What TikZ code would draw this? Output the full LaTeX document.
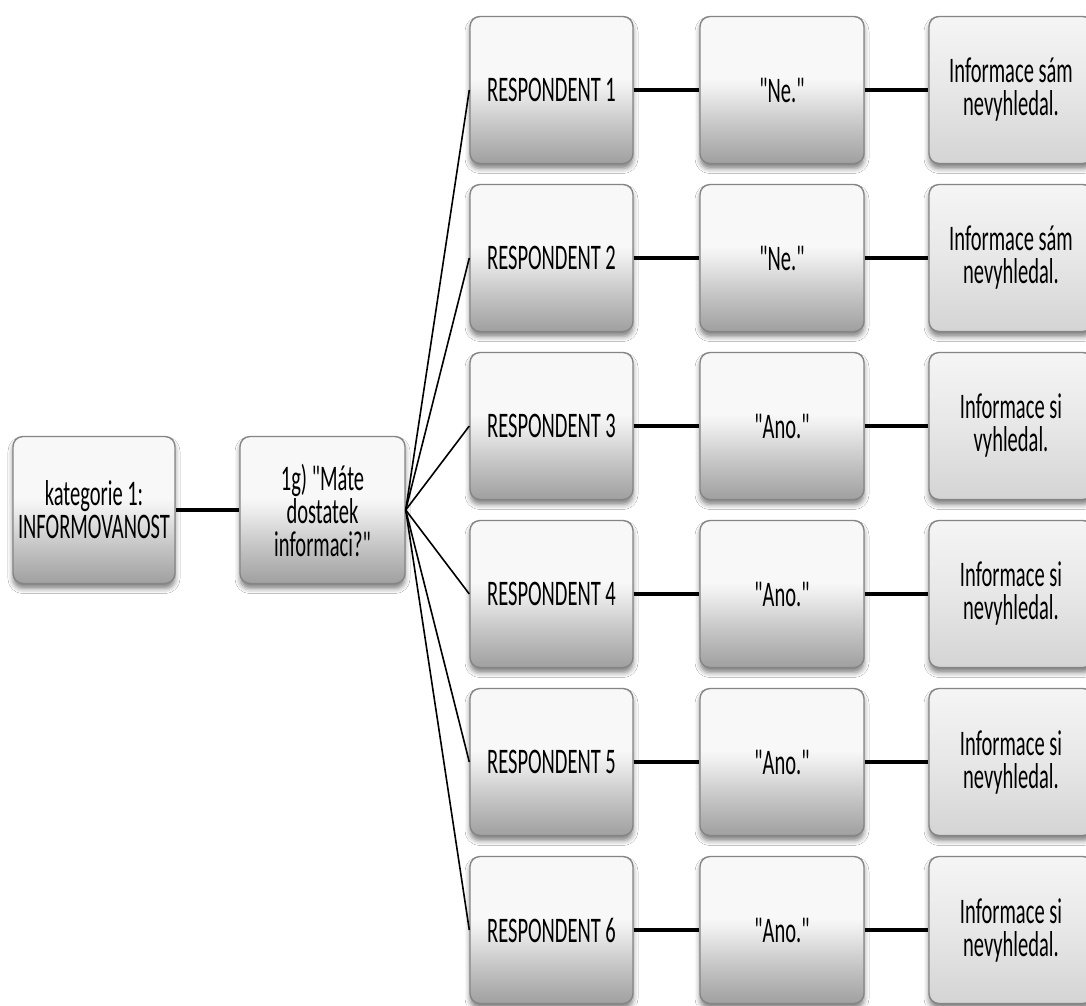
\documentclass[tikz,border=0pt]{standalone}
\usepackage{fontspec}
% plain family (no TeX ligature mapping), so " stays a straight quote
\newfontfamily\boxfont{Carlito}[FakeStretch=0.57]
\usetikzlibrary{shadows.blur}

\definecolor{boxedge}{HTML}{858585}
\definecolor{dkA}{HTML}{A0A0A0}
\definecolor{dkB}{HTML}{C6C6C6}
\definecolor{dkC}{HTML}{EDEDED}
\definecolor{dkD}{HTML}{F8F8F8}
\definecolor{ltA}{HTML}{D4D4D4}
\definecolor{ltB}{HTML}{E7E7E7}
\definecolor{ltC}{HTML}{F5F5F5}

% grey gradient, flat pale top half darkening towards the bottom edge
\pgfdeclareverticalshading{darkgrad}{100bp}{%
  color(0bp)=(dkA); color(25bp)=(dkA); color(38bp)=(dkB);
  color(50bp)=(dkC); color(54bp)=(dkD); color(100bp)=(dkD)}
% softer gradient for the result boxes
\pgfdeclareverticalshading{lightgrad}{100bp}{%
  color(0bp)=(ltA); color(25bp)=(ltA); color(50bp)=(ltB);
  color(75bp)=(ltC); color(100bp)=(ltC)}

\begin{document}
\begin{tikzpicture}[x=1pt,y=-1pt,
  box/.style={draw=boxedge, line width=1.4pt, rounded corners=10pt,
    minimum height=147pt, inner sep=0pt, align=center,
    font=\boxfont\fontsize{36pt}{33pt}\selectfont,
    blur shadow={shadow xshift=0pt, shadow yshift=-5pt,
      shadow blur radius=5pt, shadow opacity=50}},
  darkbox/.style={box, shading=darkgrad},
  lightbox/.style={box, shading=lightgrad},
  trunk/.style={line width=3.5pt},
  branch/.style={line width=1.6pt}]

\path[use as bounding box, fill=white] (0,0) rectangle (1086,1005);

% category and question
\node[darkbox, minimum width=162pt] (kat) at (94,510) {kategorie 1:\\INFORMOVANOST};
\node[darkbox, minimum width=165pt] (q) at (322.5,510) {1g) "Máte\\dostatek\\informaci?"};

% respondents, their answers and what they did
\foreach \i/\ans/\res in {%
    1/"Ne."/Informace sám\\nevyhledal.,
    2/"Ne."/Informace sám\\nevyhledal.,
    3/"Ano."/Informace si\\vyhledal.,
    4/"Ano."/Informace si\\nevyhledal.,
    5/"Ano."/Informace si\\nevyhledal.,
    6/"Ano."/Informace si\\nevyhledal.}{
  \pgfmathsetmacro{\rowy}{90+168*(\i-1)}
  \node[darkbox, minimum width=163pt] (resp\i) at (551.5,\rowy) {RESPONDENT \i};
  \node[darkbox, minimum width=164pt] (ans\i) at (782,\rowy) {\ans};
  \node[lightbox, minimum width=164pt] (info\i) at (1011,\rowy) {\res};
}

% connectors
\draw[trunk] (kat) -- (q);
\foreach \i in {1,...,6}{
  \draw[branch] (q.east) -- (resp\i.west);
  \draw[trunk] (resp\i) -- (ans\i);
  \draw[trunk] (ans\i) -- (info\i);
}
\end{tikzpicture}
\end{document}
